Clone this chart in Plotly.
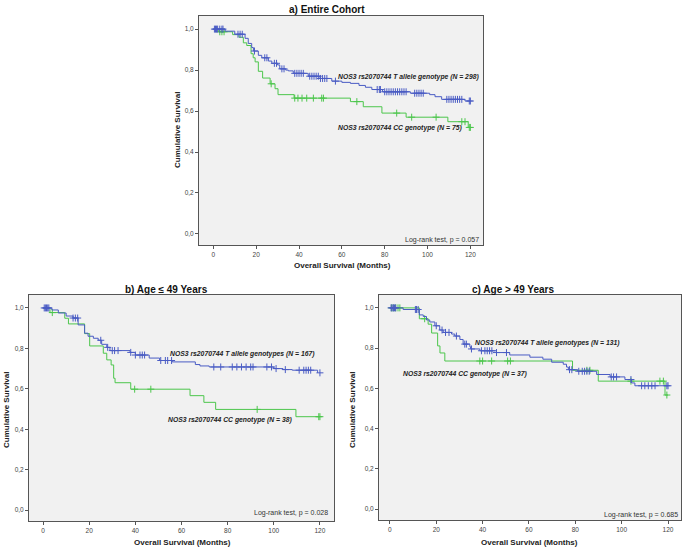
import plotly.graph_objects as go

# ---------------- DATA ----------------
# Panel a) Entire cohort
a_t_times = [0, 5.5, 10, 14.8, 16.3, 17.9, 18.7, 21, 22.6, 25.7, 27.3, 30, 31, 33.8, 35, 37.3, 44.3, 49.8, 55.3, 60, 64, 68, 71, 74, 79, 92, 101, 103.5, 106.6, 117.5, 120]
a_t_surv = [1.0, 0.99, 0.975, 0.955, 0.93, 0.91, 0.893, 0.872, 0.86, 0.844, 0.833, 0.825, 0.806, 0.80, 0.796, 0.784, 0.77, 0.759, 0.746, 0.74, 0.735, 0.725, 0.716, 0.705, 0.694, 0.687, 0.68, 0.67, 0.657, 0.649, 0.649]
a_t_cens = [0.5, 1, 1.5, 2, 3, 4, 4.5, 11.5, 12.5, 13.5, 19.2, 24, 25, 28.5, 29.5, 32, 33, 38, 39, 40, 41, 42, 45, 46, 47, 48, 49, 50, 51, 52, 53, 57, 76.5, 77.5, 78, 80, 81, 82, 83, 84, 85, 86, 87, 88, 89, 90, 94, 95, 96, 97, 98, 109, 110, 111, 112, 113, 114, 115, 116, 119.5, 120]
a_c_times = [0, 2.5, 9, 12, 14, 15.6, 17.6, 18.6, 19.5, 21, 23, 26.5, 28.8, 30.2, 37.7, 64, 70, 78.7, 90, 109.5, 119, 120]
a_c_surv = [1.0, 0.987, 0.973, 0.96, 0.933, 0.92, 0.88, 0.86, 0.84, 0.794, 0.761, 0.733, 0.709, 0.68, 0.663, 0.646, 0.621, 0.59, 0.57, 0.548, 0.52, 0.52]
a_c_cens = [3, 4, 5, 27, 38, 39.5, 41.4, 43.6, 46.7, 50.6, 51.4, 67, 85.6, 92.6, 104, 116, 117.5, 119.5, 120]

# Panel b) Age <= 49 years
b_t_times = [0, 3.8, 6.6, 10, 13, 15.2, 18, 19.5, 21.8, 23.9, 25.4, 27.6, 29, 37.7, 40, 46, 50.5, 56, 66, 68, 72, 100, 104, 108, 119]
b_t_surv = [1.0, 0.99, 0.975, 0.96, 0.95, 0.916, 0.875, 0.86, 0.85, 0.84, 0.82, 0.805, 0.789, 0.78, 0.767, 0.752, 0.74, 0.733, 0.72, 0.713, 0.708, 0.70, 0.695, 0.692, 0.679]
b_t_cens = [0.5, 1, 1.5, 2, 2.5, 13, 14, 15, 25, 28, 30, 31, 32.5, 38, 40, 42, 43, 44, 51, 53, 54, 55.7, 74, 77, 82, 84, 86, 88, 90, 91, 97, 99, 101, 105, 111, 113, 114, 115, 116, 120]
b_c_times = [0, 3, 9.4, 11, 18, 20.2, 26.1, 27.6, 29.5, 30.6, 31.2, 38, 63.7, 69.7, 74.8, 109.6, 120]
b_c_surv = [1.0, 0.977, 0.949, 0.921, 0.873, 0.812, 0.776, 0.743, 0.718, 0.652, 0.63, 0.598, 0.566, 0.533, 0.498, 0.462, 0.462]
b_c_cens = [4, 39.7, 46.7, 92.8, 119.5, 120]

# Panel c) Age > 49 years
c_t_times = [0, 5.7, 12.7, 14.4, 15.8, 17.2, 19.4, 21.5, 23, 26.6, 28, 30.2, 31.6, 34.5, 34.8, 38.8, 46, 51.7, 60.4, 66, 69.8, 74.8, 76.2, 77, 81, 89.2, 95, 101.4, 104.3, 105.7, 120]
c_t_surv = [1.0, 0.992, 0.965, 0.957, 0.94, 0.93, 0.911, 0.89, 0.878, 0.87, 0.86, 0.843, 0.82, 0.807, 0.796, 0.787, 0.778, 0.766, 0.755, 0.745, 0.73, 0.72, 0.706, 0.693, 0.685, 0.669, 0.657, 0.644, 0.627, 0.613, 0.613]
c_t_cens = [0.5, 1, 1.5, 2, 2.5, 11, 11.5, 12.2, 20, 22.5, 24, 25.5, 28.7, 32.3, 33, 35.2, 39.5, 41, 42, 43, 44, 46, 50.3, 77.5, 78.5, 81.5, 83, 84, 85, 86, 95.5, 96.5, 97.8, 104, 108.6, 110, 111.5, 113, 114.4, 119.5, 120]
c_c_times = [0, 12.7, 16.5, 18, 20.6, 21.6, 23.7, 78.8, 89.9, 118.7, 120]
c_c_surv = [1.0, 0.946, 0.919, 0.875, 0.811, 0.776, 0.736, 0.69, 0.636, 0.567, 0.567]
c_c_cens = [0.7, 1.5, 2.5, 3.5, 4.3, 15, 38.8, 40, 43.9, 50.8, 52, 85, 86.3, 104, 116.5, 118, 119.5]

titles = ["a) Entire Cohort", "b) Age \u2264 49 Years", "c) Age > 49 Years"]
t_labels = ["<i>NOS3 rs2070744 T allele genotype (N = 298)</i>",
            "<i>NOS3 rs2070744 T allele genotypes (N = 167)</i>",
            "<i>NOS3 rs2070744 T allele genotypes (N = 131)</i>"]
c_labels = ["<i>NOS3 rs2070744 CC genotype (N = 75)</i>",
            "<i>NOS3 rs2070744 CC genotype (N = 38)</i>",
            "<i>NOS3 rs2070744 CC genotype (N = 37)</i>"]
logrank = ["Log-rank test, p = 0.057", "Log-rank test, p = 0.028", "Log-rank test, p = 0.685"]
x_ticks = [0, 20, 40, 60, 80, 100, 120]
y_ticks = [0.0, 0.2, 0.4, 0.6, 0.8, 1.0]
y_tick_text = ["0,0", "0,2", "0,4", "0,6", "0,8", "1,0"]

BLUE = "#4a5cc4"
GREEN = "#4cc64c"

def step_value(times, surv, t):
    v = surv[0]
    for ti, si in zip(times, surv):
        if ti <= t:
            v = si
        else:
            break
    return v

panels = [
    dict(tt=a_t_times, ts=a_t_surv, tc=a_t_cens, ct=a_c_times, cs=a_c_surv, cc=a_c_cens,
         xd=[199/685, 483/685], yd=[1-245/549, 1-16/549], xr=[-6.7, 125.9],
         tpos=(57.3, 0.766), cpos=(57.3, 0.517), lpos=(124.9, -0.029),
         title=(327/685, 1-10/549), xt=(342/685, 1-266/549), yt=(178/685, 1-130/549)),
    dict(tt=b_t_times, ts=b_t_surv, tc=b_t_cens, ct=b_c_times, cs=b_c_surv, cc=b_c_cens,
         xd=[29/685, 334/685], yd=[1-521/549, 1-295/549], xr=[-6.1, 126.1],
         tpos=(54.2, 0.772), cpos=(53.3, 0.446), lpos=(124.4, -0.012),
         title=(166/685, 1-289/549), xt=(182/685, 1-542/549), yt=(6/685, 1-410/549)),
    dict(tt=c_t_times, ts=c_t_surv, tc=c_t_cens, ct=c_c_times, cs=c_c_surv, cc=c_c_cens,
         xd=[379/685, 681/685], yd=[1-520/549, 1-295/549], xr=[-4.7, 125.6],
         tpos=(35.8, 0.827), cpos=(4.7, 0.673), lpos=(125.2, -0.03),
         title=(513/685, 1-289/549), xt=(529/685, 1-542/549), yt=(352/685, 1-410/549)),
]

fig = go.Figure()
annotations = []
FONT = "Arial, Liberation Sans, sans-serif"

for i, p in enumerate(panels):
    sfx = "" if i == 0 else str(i + 1)
    xa, ya = "x" + sfx, "y" + sfx
    for times, surv, cens, col in [(p["ct"], p["cs"], p["cc"], GREEN), (p["tt"], p["ts"], p["tc"], BLUE)]:
        fig.add_trace(go.Scatter(x=times, y=surv, mode="lines", line=dict(color=col, width=1, shape="hv"),
                                 xaxis=xa, yaxis=ya, showlegend=False, hoverinfo="skip"))
        fig.add_trace(go.Scatter(x=cens, y=[step_value(times, surv, c) for c in cens], mode="markers",
                                 marker=dict(symbol="cross-thin", size=5, line=dict(color=col, width=1)),
                                 xaxis=xa, yaxis=ya, showlegend=False, hoverinfo="skip"))
    axis_common = dict(showline=True, mirror=True, linecolor="#555555", linewidth=1, showgrid=False,
                       zeroline=False, ticks="outside", ticklen=3, tickcolor="#555555",
                       tickfont=dict(size=6.5, color="#444444", family=FONT))
    fig.layout["xaxis" + sfx] = dict(domain=p["xd"], range=p["xr"], tickvals=x_ticks, anchor=ya, **axis_common)
    fig.layout["yaxis" + sfx] = dict(domain=p["yd"], range=[-0.054, 1.064], tickvals=y_ticks, ticktext=y_tick_text,
                                     anchor=xa, **axis_common)
    lab_font = dict(size=6.8, color="#222222", family=FONT)
    annotations += [
        dict(x=p["tpos"][0], y=p["tpos"][1], xref=xa, yref=ya, text="<b>" + t_labels[i] + "</b>", showarrow=False,
             xanchor="left", yanchor="middle", font=lab_font),
        dict(x=p["cpos"][0], y=p["cpos"][1], xref=xa, yref=ya, text="<b>" + c_labels[i] + "</b>", showarrow=False,
             xanchor="left", yanchor="middle", font=lab_font),
        dict(x=p["lpos"][0], y=p["lpos"][1], xref=xa, yref=ya, text=logrank[i], showarrow=False,
             xanchor="right", yanchor="middle", font=dict(size=7, color="#333333", family=FONT)),
        dict(x=p["title"][0], y=p["title"][1], xref="paper", yref="paper", text="<b>" + titles[i] + "</b>",
             showarrow=False, xanchor="center", yanchor="middle", font=dict(size=10, color="#111111", family=FONT)),
        dict(x=p["xt"][0], y=p["xt"][1], xref="paper", yref="paper", text="<b>Overall Survival (Months)</b>",
             showarrow=False, xanchor="center", yanchor="middle", font=dict(size=8, color="#222222", family=FONT)),
        dict(x=p["yt"][0], y=p["yt"][1], xref="paper", yref="paper", text="<b>Cumulative Survival</b>",
             showarrow=False, xanchor="center", yanchor="middle", textangle=-90,
             font=dict(size=8, color="#222222", family=FONT)),
    ]

fig.update_layout(width=685, height=549, margin=dict(l=0, r=0, t=0, b=0),
                  paper_bgcolor="white", plot_bgcolor="#f1f1f1", annotations=annotations, showlegend=False)
fig.write_html("out.html")
